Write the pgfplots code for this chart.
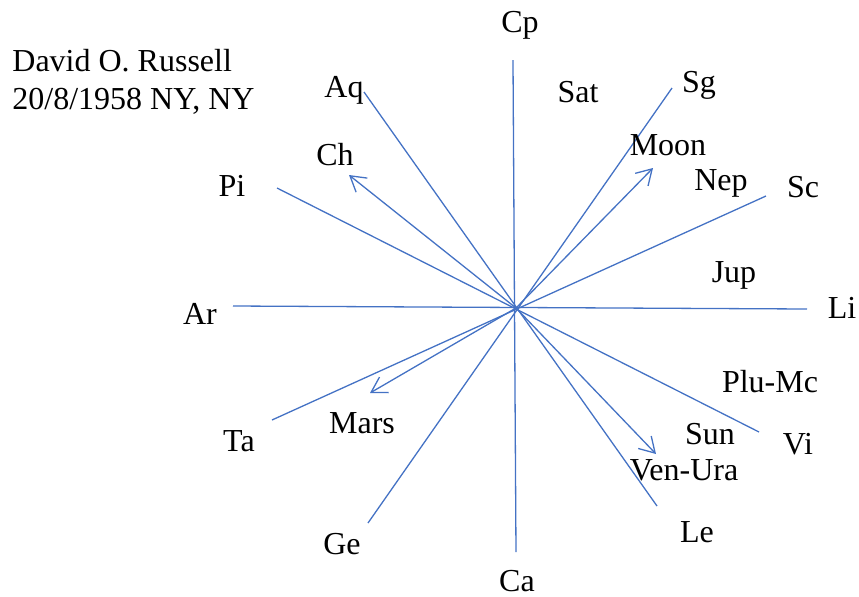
\documentclass[border=0pt]{standalone}
\usepackage{fontspec}
\setmainfont{Liberation Serif}
\usepackage{pgfplots}
\pgfplotsset{compat=1.18}
\usetikzlibrary{arrows.meta}
\definecolor{ln}{HTML}{4472C4}
\begin{document}
\fontsize{16}{19}\selectfont
\begin{tikzpicture}[every node/.style={inner sep=0pt}]
\begin{axis}[
  width=429.5pt, height=298pt, scale only axis,
  xmin=0, xmax=859, ymin=0, ymax=596, y dir=reverse,
  hide axis, clip=false,
  sl/.style={color=ln, solid, line width=0.65pt, mark=none},
  ar/.style={sl, -{Straight Barb[length=7.5pt,width=9pt]}},
]
\path (axis cs:0,0) rectangle (axis cs:859,596);
% sign axes
\addplot[sl] coordinates {(513,60) (516,552)};   % Cp - Ca
\addplot[sl] coordinates {(233,306) (807,309)};  % Ar - Li
\addplot[sl] coordinates {(364,92) (657,506)};   % Aq - Le
\addplot[sl] coordinates {(277,188) (759,432)};  % Pi - Vi
\addplot[sl] coordinates {(672,88) (368,523)};   % Sg - Ge
\addplot[sl] coordinates {(766,196) (272,420)};  % Sc - Ta
% arrows
\addplot[ar] coordinates {(516,308) (349,175)}; % Ch
\addplot[ar] coordinates {(516,308) (653,168)}; % Moon
\addplot[ar] coordinates {(516,308) (370,393)}; % Mars
\addplot[ar] coordinates {(516,308) (656,454)}; % Ven-Ura
% labels
\node at (axis cs:520,25) {Cp};
\node at (axis cs:578,92) {Sat};
\node at (axis cs:699,85) {Sg};
\node at (axis cs:344,90) {Aq};
\node at (axis cs:668,145) {Moon};
\node at (axis cs:721,183) {Nep};
\node at (axis cs:803,187) {Sc};
\node at (axis cs:335,155) {Ch};
\node at (axis cs:232,186) {Pi};
\node at (axis cs:734,275) {Jup};
\node at (axis cs:200,314) {Ar};
\node at (axis cs:842,308) {Li};
\node at (axis cs:770,382) {Plu-Mc};
\node at (axis cs:362,423) {Mars};
\node at (axis cs:239,441) {Ta};
\node at (axis cs:710,434) {Sun};
\node at (axis cs:798,444) {Vi};
\node at (axis cs:684,470) {Ven-Ura};
\node at (axis cs:342,544) {Ge};
\node at (axis cs:697,532) {Le};
\node at (axis cs:517,581) {Ca};
\node[anchor=west, align=left] at (axis cs:12,82) {David O. Russell\\20/8/1958 NY, NY};
\end{axis}
\end{tikzpicture}
\end{document}
